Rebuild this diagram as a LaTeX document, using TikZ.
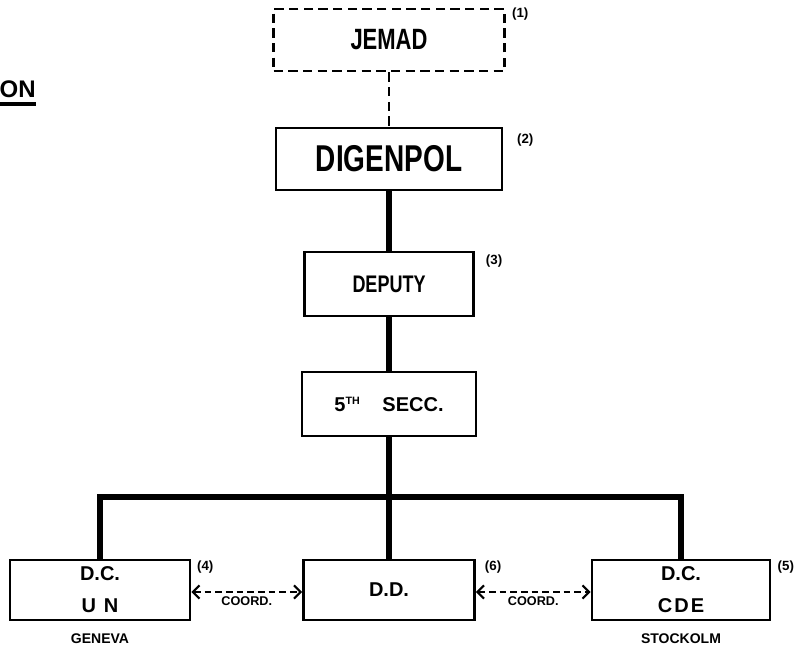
\documentclass[tikz,border=0pt]{standalone}
\usepackage{fontspec}
\setmainfont{Liberation Sans}
\newfontfamily\boxfont{Liberation Sans}[FakeStretch=0.75]
\usetikzlibrary{arrows.meta}
\begin{document}
\begin{tikzpicture}[x=0.75pt,y=-0.75pt,
  box/.style={draw,line width=2.2pt,inner sep=0pt,align=center},
  num/.style={anchor=north west,inner sep=0pt,font=\bfseries\fontsize{10}{12}\selectfont},
  place/.style={anchor=north,inner sep=0pt,font=\bfseries\fontsize{10.5}{12}\selectfont},
  link/.style={line width=4.5pt},
  coordlink/.style={line width=1.5pt,dash pattern=on 5pt off 3pt,
    {Straight Barb[length=5pt,width=10pt]}-{Straight Barb[length=5pt,width=10pt]}}]
\useasboundingbox (0,0) rectangle (805,646);
% title, cut at the left edge
\node[anchor=base east,inner sep=0pt,font=\bfseries\fontsize{18}{20}\selectfont] (title) at (36,97) {ON};
\draw[line width=3pt] ([yshift=-5pt]title.base west) -- ([yshift=-5pt]title.base east);
% chain of command
\node[box,minimum width=173pt,minimum height=46.5pt,dash pattern=on 7pt off 4pt,
  font=\boxfont\bfseries\fontsize{22}{24}\selectfont] (jemad) at (389,40) {JEMAD};
\node[box,minimum width=169.5pt,minimum height=46.5pt,
  font=\boxfont\bfseries\fontsize{28}{30}\selectfont] (digenpol) at (389,159) {DIGENPOL};
\node[box,minimum width=126.75pt,minimum height=48pt,
  font=\boxfont\bfseries\fontsize{18}{20}\selectfont] (deputy) at (389,284) {DEPUTY};
\node[box,minimum width=130.5pt,minimum height=48pt,
  font=\bfseries\fontsize{15}{18}\selectfont] (secc) at (389,404)
  {5\textsuperscript{\fontsize{8}{8}\selectfont TH}\hspace{1.1em}SECC.};
% sections
\node[box,minimum width=135pt,minimum height=45pt,
  font=\bfseries\fontsize{15}{24}\selectfont] (dcun) at (100,590) {D.C.\\U\hspace{0.4em}N};
\node[box,minimum width=128.25pt,minimum height=45pt,
  font=\bfseries\fontsize{15}{18}\selectfont] (dd) at (389,590) {D.D.};
\node[box,minimum width=133.5pt,minimum height=45pt,
  font=\bfseries\fontsize{15}{24}\selectfont] (dccde) at (681,590) {D.C.\\C\kern1.5pt D\kern1.5pt E};
% notes
\node[num] (n1) at ([xshift=4.5pt]jemad.north east) {(1)};
\node[num] (n2) at ([xshift=10pt,yshift=-5pt]digenpol.north east) {(2)};
\node[num] (n3) at ([xshift=8pt,yshift=-3pt]deputy.north east) {(3)};
\node[num] (n4) at ([xshift=4pt,yshift=-1.5pt]dcun.north east) {(4)};
\node[num] (n6) at ([xshift=6.5pt,yshift=-1.5pt]dd.north east) {(6)};
\node[num] (n5) at ([xshift=4.5pt,yshift=-1.5pt]dccde.north east) {(5)};
\node[place] (geneva) at ([yshift=-9pt]dcun.south) {GENEVA};
\node[place] (stockolm) at ([yshift=-9pt]dccde.south) {STOCKOLM};
% links
\coordinate (fork) at (389,497);
\draw[line width=2.2pt,dash pattern=on 7pt off 4pt] (jemad) -- (digenpol);
\draw[link] (digenpol) -- (deputy);
\draw[link] (deputy) -- (secc);
\draw[link] (secc) -- (dd);
\draw[link,line join=miter] (dcun) |- (fork) -| (dccde);
\draw[coordlink] ([yshift=-1.5pt]dcun.east) -- node[below=3pt,inner sep=0pt,font=\bfseries\fontsize{9.5}{11}\selectfont]{COORD.} ([yshift=-1.5pt]dd.west);
\draw[coordlink] ([yshift=-1.5pt]dd.east) -- node[below=3pt,inner sep=0pt,font=\bfseries\fontsize{9.5}{11}\selectfont]{COORD.} ([yshift=-1.5pt]dccde.west);
\end{tikzpicture}
\end{document}
